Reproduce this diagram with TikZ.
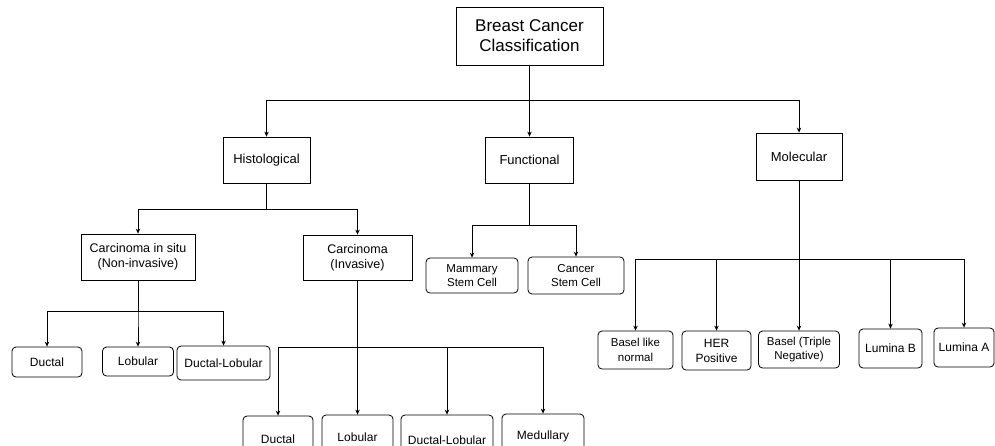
\documentclass[tikz,border=0pt]{standalone}
\usepackage{fontspec}
\setmainfont{Liberation Sans}
\usetikzlibrary{arrows.meta}

\tikzset{
  catbox/.style={draw, line width=0.8pt, align=center, inner sep=1pt, font=\fontsize{13}{15}\selectfont},
  subbox/.style={catbox, font=\fontsize{12.5}{15}\selectfont},
  leafbox/.style={draw, rounded corners=4pt, line width=0.8pt, align=center, inner sep=1pt, font=\fontsize{12}{14}\selectfont},
  smallleaf/.style={leafbox, font=\fontsize{11.5}{14.3}\selectfont},
  arr/.style={-{Stealth[length=5pt,width=4.5pt]}, line width=0.8pt},
}

\begin{document}
\begin{tikzpicture}[x=1pt, y=-1pt]
\useasboundingbox (0,0) rectangle (995,445);
\node[catbox, minimum width=147pt, minimum height=58pt, font=\fontsize{17}{20}\selectfont] (root) at (529.5,36) {Breast Cancer\\Classification};
\node[catbox, minimum width=87pt, minimum height=46pt] (hist) at (266.5,160) {Histological};
\node[catbox, minimum width=88pt, minimum height=46pt] (func) at (529.5,160) {Functional};
\node[catbox, minimum width=86pt, minimum height=47pt] (mol) at (799,156.5) {Molecular};
\node[subbox, minimum width=114pt, minimum height=46pt] (situ) at (138,257) {Carcinoma in situ\\(Non-invasive)};
\node[subbox, minimum width=109pt, minimum height=45pt] (inv) at (357.5,257.5) {Carcinoma\\(Invasive)};
\node[smallleaf, minimum width=92pt, minimum height=35pt] (mam) at (472,275.5) {Mammary\\Stem Cell};
\node[smallleaf, minimum width=96pt, minimum height=37pt] (csc) at (576,275.5) {Cancer\\Stem Cell};
\node[leafbox, minimum width=70pt, minimum height=30pt] (ductA) at (47,362) {Ductal};
\node[leafbox, minimum width=71pt, minimum height=29pt] (lobA) at (138,361.5) {Lobular};
\node[leafbox, minimum width=93pt, minimum height=34pt] (dlA) at (223.5,363) {Ductal-Lobular};
\node[leafbox, minimum width=70pt, minimum height=46pt] (ductB) at (278,439) {Ductal};
\node[leafbox, minimum width=71pt, minimum height=44pt] (lobB) at (357.5,437) {Lobular};
\node[leafbox, minimum width=92pt, minimum height=50pt] (dlB) at (447,440) {Ductal-Lobular};
\node[leafbox, minimum width=82pt, minimum height=44pt] (med) at (543,436) {Medullary};
\node[smallleaf, minimum width=75pt, minimum height=38pt] (bln) at (635.5,350) {Basel like\\normal};
\node[smallleaf, minimum width=69pt, minimum height=39pt, font=\fontsize{12}{15}\selectfont] (her) at (716.5,350.5) {HER\\Positive};
\node[smallleaf, minimum width=81pt, minimum height=37pt] (btn) at (799,349.5) {Basel (Triple\\Negative)};
\node[leafbox, minimum width=63pt, minimum height=39pt] (lumB) at (890.5,348.5) {Lumina B};
\node[leafbox, minimum width=60pt, minimum height=39pt] (lumA) at (964,347.5) {Lumina A};

\coordinate (rootbar) at (0,100);
\coordinate (histbar) at (0,209);
\coordinate (funcbar) at (0,225);
\coordinate (molbar) at (0,259);
\coordinate (situbar) at (0,311);
\coordinate (invbar) at (0,347);

\foreach \c in {hist,func,mol}
  \draw[arr] (root.south) -- (root.south |- rootbar) -| (\c.north);
\foreach \c in {situ,inv}
  \draw[arr] (hist.south) -- (hist.south |- histbar) -| (\c.north);
\foreach \c in {mam,csc}
  \draw[arr] (func.south) -- (func.south |- funcbar) -| (\c.north);
\foreach \c in {bln,her,btn,lumB,lumA}
  \draw[arr] (mol.south) -- (mol.south |- molbar) -| (\c.north);
\foreach \c in {ductA,lobA,dlA}
  \draw[arr] (situ.south) -- (situ.south |- situbar) -| (\c.north);
\foreach \c in {ductB,lobB,dlB,med}
  \draw[arr] (inv.south |- invbar) -| (\c.north);
\draw[line width=1.5pt] (inv.south) -- (inv.south |- invbar);
\end{tikzpicture}
\end{document}
